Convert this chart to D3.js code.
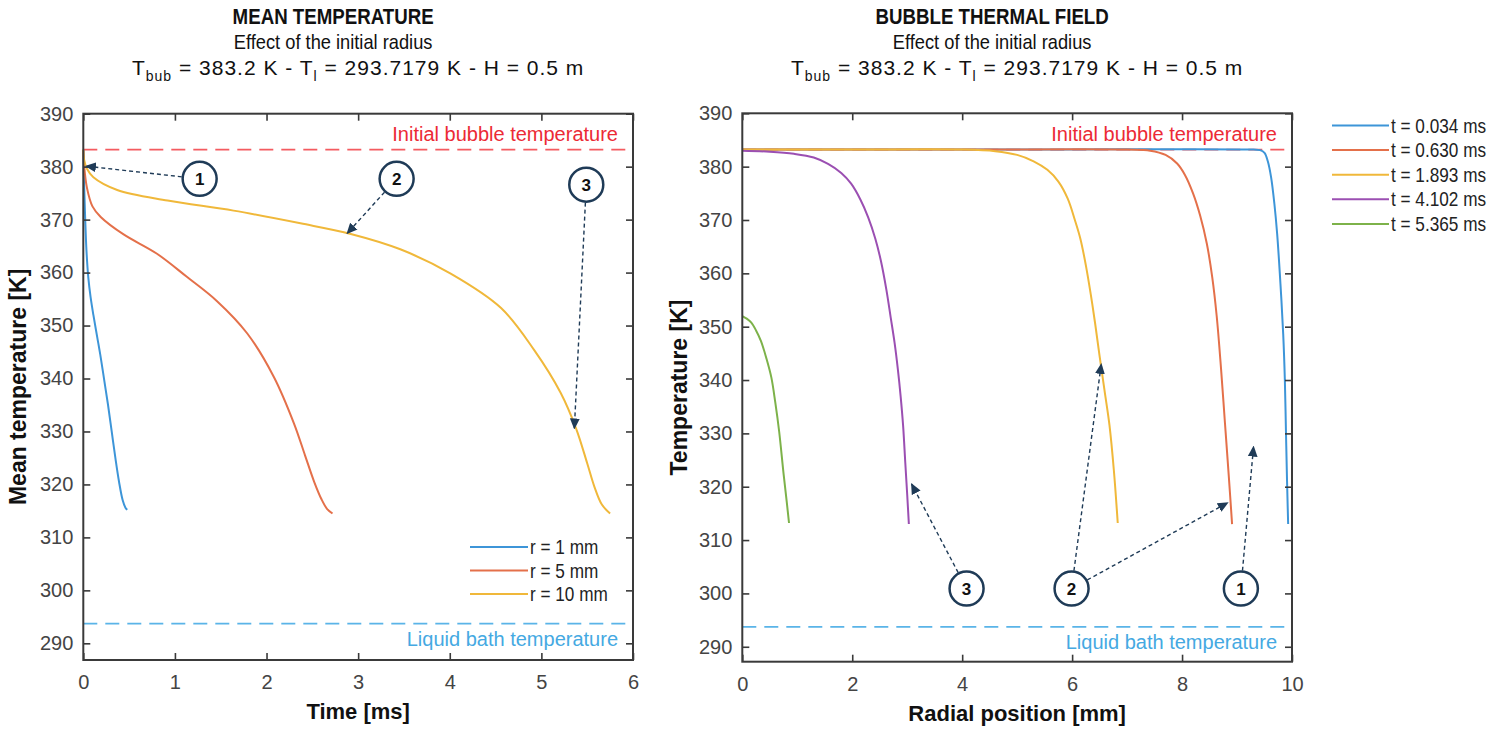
<!DOCTYPE html>
<html><head><meta charset="utf-8">
<script src="https://cdn.jsdelivr.net/npm/d3@7"></script>
<style>
body{margin:0;background:#fff}
text{font-family:"Liberation Sans",Arial,Helvetica,sans-serif}
</style>
</head><body>
<svg id="chart" width="1499" height="731"></svg>
<script>
// ---------------- DATA ----------------
const T_BUB = 383.2;
const T_LIQ = 293.7179;

const meanTimeTicks = [0, 1, 2, 3, 4, 5, 6];
const tempTicks = [290, 300, 310, 320, 330, 340, 350, 360, 370, 380, 390];
const radialTicks = [0, 2, 4, 6, 8, 10];

const meanLabels = ["r = 1 mm", "r = 5 mm", "r = 10 mm"];
const meanR1 = [[0,383.2],[0.004,379.5],[0.01,376],[0.02,370.5],[0.035,364],[0.055,359],[0.08,355.3],[0.11,352],[0.15,348],[0.19,344],[0.23,339.5],[0.27,335],[0.31,330],[0.35,325],[0.39,320.5],[0.43,317],[0.46,315.6],[0.48,315.2]];
const meanR5 = [[0,383.2],[0.01,380],[0.04,376],[0.10,372.5],[0.19,370.5],[0.44,367.2],[0.80,363.6],[1.13,359.2],[1.46,354.6],[1.79,348.5],[2.08,340.3],[2.30,331.5],[2.42,325.5],[2.52,320.5],[2.60,317.2],[2.66,315.4],[2.72,314.5]];
const meanR10 = [[0,383.2],[0.01,381.2],[0.04,379.6],[0.11,378],[0.37,375.6],[0.92,373.6],[1.64,371.7],[2.37,369.3],[2.92,367.3],[3.46,364.4],[4.01,359.8],[4.56,353.3],[4.92,345.4],[5.21,337.3],[5.38,330.5],[5.50,324],[5.58,319.5],[5.66,316.2],[5.75,314.5]];

const fieldLabels = ["t = 0.034 ms", "t = 0.630 ms", "t = 1.893 ms", "t = 4.102 ms", "t = 5.365 ms"];
const fieldT1 = [[0,383.2],[5.0,383.2],[9.30,383.2],[9.42,383.1],[9.50,382.6],[9.56,381],[9.62,378],[9.68,373],[9.73,367.4],[9.79,358],[9.84,348.6],[9.87,340],[9.89,330.4],[9.91,321],[9.93,313]];
const fieldT2 = [[0,383.2],[4.0,383.2],[7.0,383.2],[7.42,383.0],[7.70,382.2],[7.91,380.6],[8.05,378.5],[8.20,375],[8.33,370.8],[8.45,365.6],[8.55,359.2],[8.63,352],[8.71,342],[8.78,332],[8.85,322],[8.91,313]];
const fieldT3 = [[0,383.2],[2.0,383.2],[4.0,383.2],[4.6,382.9],[5.0,382.2],[5.3,381],[5.55,379.4],[5.75,377.2],[5.92,374],[6.05,370],[6.15,366.5],[6.25,361.5],[6.34,356],[6.42,350.5],[6.50,344.5],[6.59,338],[6.68,331.5],[6.76,323],[6.83,313.2]];
const fieldT4 = [[0,383.0],[0.5,382.8],[0.94,382.4],[1.30,381.7],[1.56,380.5],[1.80,378.8],[1.98,376.8],[2.15,373.8],[2.29,370.5],[2.42,366.5],[2.52,362.4],[2.62,357],[2.70,351.7],[2.77,347],[2.83,342],[2.88,337],[2.925,331.5],[2.965,324.5],[3.0,318.5],[3.03,313]];
const fieldT5 = [[0,352],[0.08,351.5],[0.16,350.8],[0.25,349.3],[0.34,347.3],[0.44,344],[0.53,340.4],[0.60,335.8],[0.67,330.4],[0.75,322.5],[0.81,317],[0.85,313.2]];

const seriesColors = ["#3d95d8", "#e4704a", "#f0b83a", "#9b4fb2", "#7db24a"];

// callouts: circle center (data coords) and arrow targets (data coords)
const meanCallouts = [
  {n: "1", at: [1.27, 377.7], to: [[0.03, 380.1]]},
  {n: "2", at: [3.42, 377.7], to: [[2.88, 367.4]]},
  {n: "3", at: [5.49, 376.6], to: [[5.36, 330.6]]}
];
const fieldCallouts = [
  {n: "3", at: [4.08, 300.9], to: [[3.08, 320.5]]},
  {n: "2", at: [5.99, 300.9], to: [[6.53, 343], [8.83, 317]]},
  {n: "1", at: [9.07, 300.9], to: [[9.3, 327.5]]}
];

// ---------------- DRAW ----------------
const svg = d3.select("#chart");
svg.append("rect").attr("width",1499).attr("height",731).attr("fill","#fff");
const NAVY = "#1f3b57";
svg.append("defs").append("marker")
  .attr("id","arrow").attr("viewBox","0 0 10 10").attr("refX",9).attr("refY",5)
  .attr("markerWidth",11).attr("markerHeight",11).attr("markerUnits","userSpaceOnUse")
  .attr("orient","auto")
  .append("path").attr("d","M0,0.5 L10,5 L0,9.5 Z").attr("fill",NAVY);

function panel(cfg) {
  const x = d3.scaleLinear().domain(cfg.xDomain).range([cfg.left, cfg.right]);
  const y = d3.scaleLinear().domain(cfg.yDomain).range([cfg.bottom, cfg.top]);
  const g = svg.append("g");
  const cx = (cfg.left + cfg.right) / 2;

  // titles (slightly condensed like the original)
  g.append("text").attr("transform",`translate(${cx - 25},24) scale(0.85,1)`).attr("text-anchor","middle")
    .attr("font-size", 22).attr("font-weight","bold").attr("fill","#111").text(cfg.title);
  g.append("text").attr("transform",`translate(${cx - 25},49) scale(0.87,1)`).attr("text-anchor","middle")
    .attr("font-size", 21).attr("fill","#111").text("Effect of the initial radius");
  const t3 = g.append("text").attr("x", cx).attr("y", 75).attr("text-anchor","middle")
    .attr("font-size", 21).attr("letter-spacing", 1).attr("fill","#111");
  t3.append("tspan").text("T");
  t3.append("tspan").attr("font-size",14).attr("dy",6).text("bub");
  t3.append("tspan").attr("dy",-6).text(" = 383.2 K - T");
  t3.append("tspan").attr("font-size",14).attr("dy",6).text("l");
  t3.append("tspan").attr("dy",-6).text(" = 293.7179 K - H = 0.5 m");

  // reference lines
  const refG = g.append("g");
  refG.append("line").attr("x1",x(cfg.xDomain[0])).attr("x2",x(cfg.xDomain[1]))
    .attr("y1",y(T_BUB)).attr("y2",y(T_BUB)).attr("stroke","#f45b60").attr("stroke-width",1.8)
    .attr("stroke-dasharray","14,8");
  refG.append("line").attr("x1",x(cfg.xDomain[0])).attr("x2",x(cfg.xDomain[1]))
    .attr("y1",y(T_LIQ)).attr("y2",y(T_LIQ)).attr("stroke","#5ab4e8").attr("stroke-width",1.8)
    .attr("stroke-dasharray","14,8");
  refG.append("text").attr("x", cfg.right - 15).attr("y", y(T_BUB) - 9).attr("text-anchor","end")
    .attr("font-size",20).attr("fill","#ec2a35").text("Initial bubble temperature");
  refG.append("text").attr("x", cfg.right - 15).attr("y", y(T_LIQ) + 22).attr("text-anchor","end")
    .attr("font-size",20).attr("fill","#45a9e2").text("Liquid bath temperature");

  // curves
  const line = d3.line().x(d => x(d[0])).y(d => y(d[1])).curve(d3.curveCatmullRom.alpha(0.5));
  cfg.series.forEach((s, i) => {
    g.append("path").datum(s).attr("d", line).attr("fill","none")
      .attr("stroke", seriesColors[i]).attr("stroke-width", 2);
  });

  // axes (ticks inside, mirrored)
  const AX = "#3a3a3a";
  const fmt = d3.format("d");
  const axB = g.append("g").attr("transform",`translate(0,${cfg.bottom})`)
    .call(d3.axisBottom(x).tickValues(cfg.xTicks).tickFormat(fmt).tickSizeInner(-7).tickSizeOuter(0).tickPadding(15));
  const axL = g.append("g").attr("transform",`translate(${cfg.left},0)`)
    .call(d3.axisLeft(y).tickValues(tempTicks).tickFormat(fmt).tickSizeInner(-7).tickSizeOuter(0).tickPadding(10));
  const axT = g.append("g").attr("transform",`translate(0,${cfg.top})`)
    .call(d3.axisTop(x).tickValues(cfg.xTicks).tickSizeInner(-7).tickSizeOuter(0).tickFormat(""));
  const axR = g.append("g").attr("transform",`translate(${cfg.right},0)`)
    .call(d3.axisRight(y).tickValues(tempTicks).tickSizeInner(-7).tickSizeOuter(0).tickFormat(""));
  [axB, axL, axT, axR].forEach(a => {
    a.select(".domain").remove();
    a.selectAll(".tick line").attr("stroke", AX).attr("stroke-width", 1.6);
    a.selectAll(".tick text").attr("font-size", 20).attr("fill","#444")
      .attr("font-family","'Liberation Sans',Arial,sans-serif");
  });
  g.append("rect").attr("x",cfg.left).attr("y",cfg.top)
    .attr("width",cfg.right-cfg.left).attr("height",cfg.bottom-cfg.top)
    .attr("fill","none").attr("stroke",AX).attr("stroke-width",2);

  // axis labels
  g.append("text").attr("x", cx).attr("y", cfg.bottom + 59).attr("text-anchor","middle")
    .attr("font-size",22).attr("font-weight","bold").attr("fill","#111").text(cfg.xLabel);
  g.append("text").attr("transform",`translate(${cfg.left - cfg.yLabOff},${(cfg.top+cfg.bottom)/2}) rotate(-90)`)
    .attr("text-anchor","middle").attr("font-size",23).attr("font-weight","bold").attr("fill","#111")
    .text(cfg.yLabel);

  // legend
  const lg = g.append("g");
  cfg.labels.forEach((lab, i) => {
    const yy = cfg.legY + i * cfg.legDy;
    lg.append("line").attr("x1", cfg.legX).attr("x2", cfg.legX + cfg.legLen)
      .attr("y1", yy).attr("y2", yy).attr("stroke", seriesColors[i]).attr("stroke-width", 2);
    lg.append("text").attr("transform",`translate(${cfg.legX + cfg.legLen + 2},${yy + 7}) scale(0.86,1)`)
      .attr("font-size", 20).attr("fill","#222").text(lab);
  });

  // callouts
  const R = 17;
  cfg.callouts.forEach(c => {
    const px = x(c.at[0]), py = y(c.at[1]);
    c.to.forEach(t => {
      const tx = x(t[0]), ty = y(t[1]);
      const ang = Math.atan2(ty - py, tx - px);
      g.append("line").attr("x1", px + (R + 1) * Math.cos(ang)).attr("y1", py + (R + 1) * Math.sin(ang))
        .attr("x2", tx).attr("y2", ty).attr("stroke", NAVY).attr("stroke-width", 1.4)
        .attr("stroke-dasharray","4,3").attr("marker-end","url(#arrow)");
    });
    g.append("circle").attr("cx", px).attr("cy", py).attr("r", R)
      .attr("fill","#fff").attr("stroke", NAVY).attr("stroke-width", 2.5);
    g.append("text").attr("x", px).attr("y", py + 6).attr("text-anchor","middle")
      .attr("font-size", 17).attr("font-weight","bold").attr("fill","#111").text(c.n);
  });
}

panel({
  left: 83.3, right: 633, top: 113.7, bottom: 660,
  xDomain: [0, 6], yDomain: [286.85, 390], xTicks: meanTimeTicks,
  title: "MEAN TEMPERATURE", xLabel: "Time [ms]", yLabel: "Mean temperature [K]", yLabOff: 57,
  series: [meanR1, meanR5, meanR10], labels: meanLabels,
  legX: 470, legY: 547, legDy: 23.5, legLen: 58,
  callouts: meanCallouts
});
panel({
  left: 742.3, right: 1292, top: 113.3, bottom: 661.7,
  xDomain: [0, 10], yDomain: [287.2, 390], xTicks: radialTicks,
  title: "BUBBLE THERMAL FIELD", xLabel: "Radial position [mm]", yLabel: "Temperature [K]", yLabOff: 55,
  series: [fieldT1, fieldT2, fieldT3, fieldT4, fieldT5], labels: fieldLabels,
  legX: 1332, legY: 125.5, legDy: 24.6, legLen: 57,
  callouts: fieldCallouts
});
</script>
</body></html>
